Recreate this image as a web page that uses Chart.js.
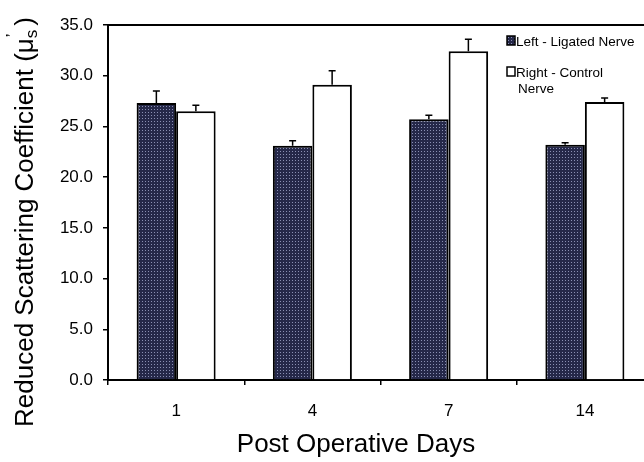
<!DOCTYPE html>
<html>
<head>
<meta charset="utf-8">
<script src="https://cdn.jsdelivr.net/npm/chart.js@4/dist/chart.umd.min.js"></script>
<style>
  html, body { margin: 0; padding: 0; background: #fff; overflow: hidden; }
  #wrap { width: 644px; height: 462px; overflow: hidden; }
</style>
</head>
<body>
<div id="wrap"><canvas id="chart" width="680" height="462"></canvas></div>
<script>
// ---- data ----
const days = ['1', '4', '7', '14'];
const leftLigated = [27.3, 23.1, 25.7, 23.2];
const leftErr = [1.2, 0.5, 0.4, 0.2];
const rightControl = [26.5, 29.1, 32.4, 27.4];
const rightErr = [0.6, 1.4, 1.2, 0.4];
const yTicks = [0, 5, 10, 15, 20, 25, 30, 35];

// dotted navy fill like the original
function makePattern() {
  const c = document.createElement('canvas');
  c.width = 3; c.height = 3;
  const g = c.getContext('2d');
  g.fillStyle = '#252849';
  g.fillRect(0, 0, 3, 3);
  g.fillStyle = '#8a8fb3';
  g.fillRect(1, 1, 1, 1);
  return g.createPattern(c, 'repeat');
}

const FONT = 'Arial, "Liberation Sans", sans-serif';

// upper error bars, top frame line, custom titles and legend
const extras = {
  id: 'extras',
  afterDatasetsDraw(chart) {
    const ctx = chart.ctx;
    const y = chart.scales.y;
    const area = chart.chartArea;
    ctx.save();
    ctx.strokeStyle = '#000';
    ctx.lineWidth = 1.5;
    [leftErr, rightErr].forEach((errs, di) => {
      const meta = chart.getDatasetMeta(di);
      const vals = chart.data.datasets[di].data;
      meta.data.forEach((bar, i) => {
        const yTop = y.getPixelForValue(vals[i]);
        const yErr = y.getPixelForValue(vals[i] + errs[i]);
        ctx.beginPath();
        ctx.moveTo(bar.x, yTop);
        ctx.lineTo(bar.x, yErr);
        ctx.moveTo(bar.x - 3.5, yErr);
        ctx.lineTo(bar.x + 3.5, yErr);
        ctx.stroke();
      });
    });

    // top frame line
    ctx.lineWidth = 2;
    ctx.beginPath();
    ctx.moveTo(area.left, area.top);
    ctx.lineTo(chart.width, area.top);
    ctx.stroke();

    // y title with subscript
    ctx.fillStyle = '#000';
    ctx.translate(33, 222);
    ctx.rotate(-Math.PI / 2);
    ctx.textBaseline = 'alphabetic';
    const big = '26px ' + FONT, small = '17px ' + FONT;
    ctx.font = big;
    const p1 = 'Reduced Scattering Coefficient (\u03bc';
    const w1 = ctx.measureText(p1).width;
    ctx.font = small;
    const ws = ctx.measureText('s').width;
    ctx.font = big;
    const wq = ctx.measureText(')').width;
    const total = w1 + ws + 4 + wq;
    let x0 = -total / 2;
    ctx.fillText(p1, x0, 0);
    x0 += w1;
    ctx.font = small;
    ctx.fillText('s', x0, 4);
    ctx.fillText('\u2019', x0 + 1, -15);
    x0 += ws + 4;
    ctx.font = big;
    ctx.fillText(')', x0, 0);
    ctx.setTransform(1, 0, 0, 1, 0, 0);

    // x title
    ctx.font = '26px ' + FONT;
    ctx.textAlign = 'center';
    ctx.fillText('Post Operative Days', 356, 452);

    // legend
    ctx.textAlign = 'left';
    ctx.font = '13.5px ' + FONT;
    ctx.fillStyle = chart.data.datasets[0].backgroundColor;
    ctx.fillRect(507, 36, 8, 9);
    ctx.lineWidth = 1.5;
    ctx.strokeRect(507, 36, 8, 9);
    ctx.fillStyle = '#000';
    ctx.fillText('Left - Ligated Nerve', 516, 46);
    ctx.fillStyle = '#fff';
    ctx.fillRect(507, 67, 8, 9);
    ctx.strokeRect(507, 67, 8, 9);
    ctx.fillStyle = '#000';
    ctx.fillText('Right - Control', 516, 77);
    ctx.fillText('Nerve', 518, 93);
    ctx.restore();
  }
};

new Chart(document.getElementById('chart'), {
  type: 'bar',
  data: {
    labels: days,
    datasets: [
      {
        label: 'Left - Ligated Nerve',
        data: leftLigated,
        backgroundColor: makePattern(),
        borderColor: '#000',
        borderWidth: 2,
        borderSkipped: 'bottom'
      },
      {
        label: 'Right - Control Nerve',
        data: rightControl,
        backgroundColor: '#fff',
        borderColor: '#000',
        borderWidth: 2,
        borderSkipped: 'bottom'
      }
    ]
  },
  options: {
    responsive: false,
    animation: false,
    layout: { padding: { top: 25, right: 27, left: 0, bottom: 0 } },
    plugins: { legend: { display: false }, tooltip: { enabled: false } },
    datasets: { bar: { categoryPercentage: 0.58, barPercentage: 1 } },
    scales: {
      x: {
        afterFit: s => { s.height = 82; },
        grid: { drawOnChartArea: false, drawTicks: true, tickLength: 5, color: '#000', lineWidth: 1.5 },
        border: { color: '#000', width: 2 },
        ticks: { color: '#000', font: { family: FONT, size: 17 }, padding: 16 }
      },
      y: {
        min: 0, max: 35,
        afterFit: s => { s.width = 108; },
        afterBuildTicks: s => { s.ticks = yTicks.map(v => ({ value: v })); },
        grid: { drawOnChartArea: false, drawTicks: true, tickLength: 5, color: '#000', lineWidth: 1.5 },
        border: { color: '#000', width: 2 },
        ticks: { color: '#000', font: { family: FONT, size: 17 }, padding: 10, callback: v => v.toFixed(1) }
      }
    }
  },
  plugins: [extras]
});
</script>
</body>
</html>
